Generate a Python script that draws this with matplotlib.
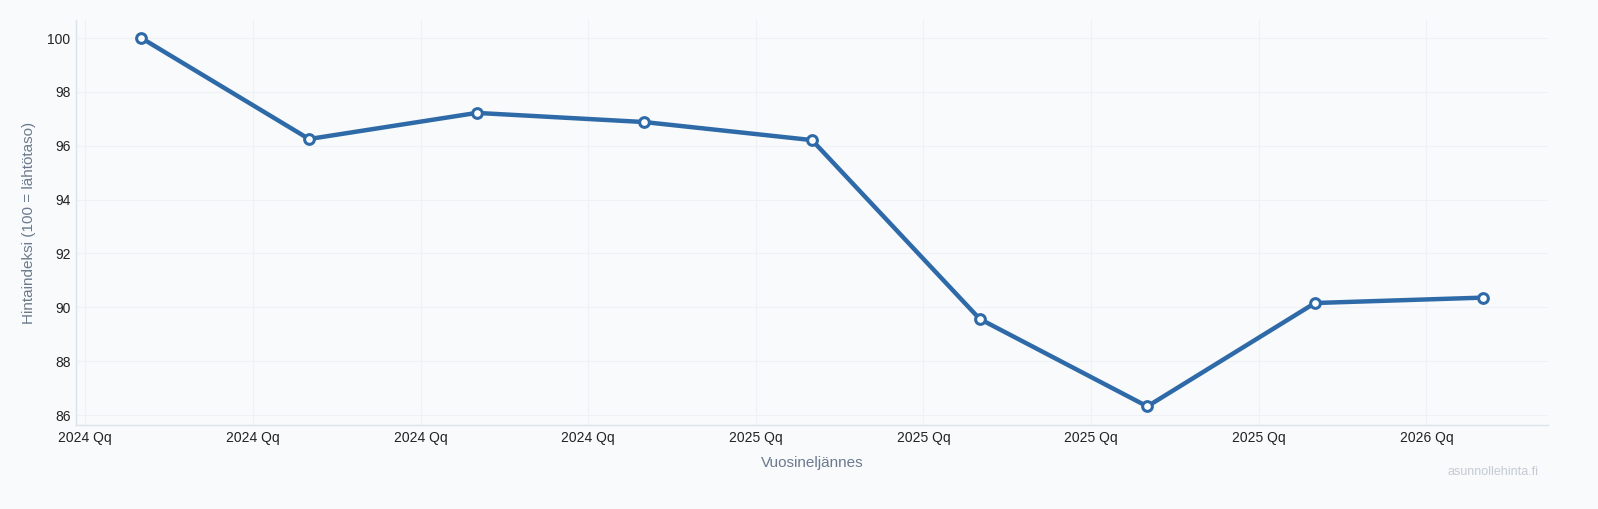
import matplotlib.pyplot as plt

# quarterly price index (100 = base level)
tick_labels = ["2024 Qq", "2024 Qq", "2024 Qq", "2024 Qq", "2025 Qq",
               "2025 Qq", "2025 Qq", "2025 Qq", "2026 Qq"]
index_values = [100.0, 96.25, 97.22, 96.88, 96.21, 89.57, 86.32, 90.16, 90.36]

bg = "#f8fafc"
line_color = "#2f6aa8"
plt.rcParams["font.family"] = ["Liberation Sans", "DejaVu Sans"]

fig = plt.figure(figsize=(15.98, 5.09), dpi=100, facecolor=bg)
ax = fig.add_axes([76 / 1598, 1 - 425 / 509, (1548 - 76) / 1598, (425 - 20) / 509])
ax.set_facecolor(bg)

x = list(range(len(index_values)))
ax.plot(x, index_values, color=line_color, linewidth=3.2, marker="o",
        markersize=7, markerfacecolor="white", markeredgecolor=line_color,
        markeredgewidth=2.2, zorder=3)

ax.set_xlim(-0.39, len(x) - 1 + 0.39)
ax.set_ylim(85.63, 100.67)
ax.set_yticks([86, 88, 90, 92, 94, 96, 98, 100])
ax.set_xticks([i - 0.335 for i in x])
ax.set_xticklabels(tick_labels)

ax.grid(True, color="#eef1f5", linewidth=0.8)
ax.set_axisbelow(True)
for side in ["top", "right"]:
    ax.spines[side].set_visible(False)
for side in ["left", "bottom"]:
    ax.spines[side].set_color("#dde3ec")
    ax.spines[side].set_linewidth(1.0)
ax.tick_params(length=0, labelsize=10, colors="#222222", pad=4)

ax.set_ylabel("Hintaindeksi (100 = lähtötaso)", fontsize=11, color="#6b7a8c", labelpad=8)
ax.set_xlabel("Vuosineljännes", fontsize=11, color="#6b7a8c", labelpad=8)

fig.text(1538 / 1598, 1 - 472 / 509, "asunnollehinta.fi", fontsize=9,
         color="#c5cbd3", ha="right", va="center")

fig.savefig("out.png", dpi=100, facecolor=bg)
